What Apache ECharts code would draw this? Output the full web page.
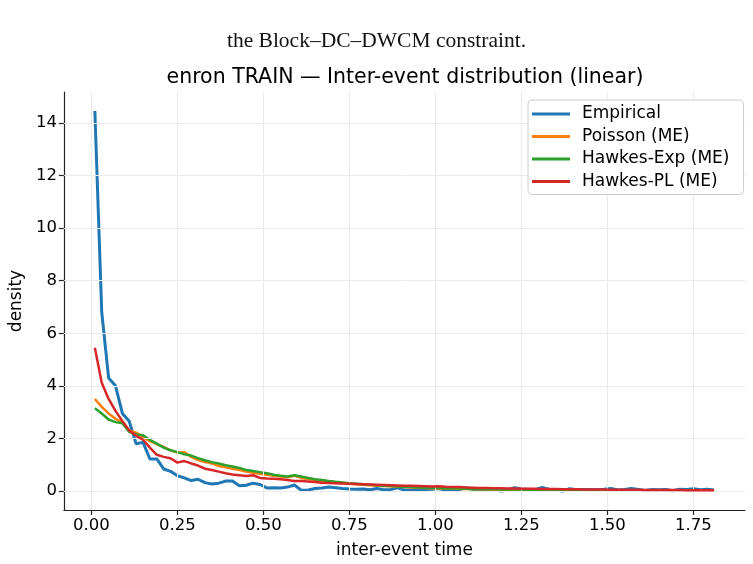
<!DOCTYPE html>
<html>
<head>
<meta charset="utf-8">
<script src="https://cdn.jsdelivr.net/npm/echarts@6/dist/echarts.min.js"></script>
<style>
html,body{margin:0;padding:0;background:#fff;}
#chart{width:753px;height:564px;}
</style>
</head>
<body>
<div id="chart"></div>
<script>
const xs = [0.01,0.03,0.05,0.07,0.09,0.11,0.13,0.15,0.17,0.19,
0.21,0.23,0.25,0.27,0.29,0.31,0.33,0.35,0.37,0.39,
0.41,0.43,0.45,0.47,0.49,0.51,0.53,0.55,0.57,0.59,
0.61,0.63,0.65,0.67,0.69,0.71,0.73,0.75,0.77,0.79,
0.81,0.83,0.85,0.87,0.89,0.91,0.93,0.95,0.97,0.99,
1.01,1.03,1.05,1.07,1.09,1.11,1.13,1.15,1.17,1.19,
1.21,1.23,1.25,1.27,1.29,1.31,1.33,1.35,1.37,1.39,
1.41,1.43,1.45,1.47,1.49,1.51,1.53,1.55,1.57,1.59,
1.61,1.63,1.65,1.67,1.69,1.71,1.73,1.75,1.77,1.79,
1.81];

const empirical = [14.45,6.8,4.3,4.0,2.95,2.65,1.8,1.85,1.22,1.22,
0.84,0.75,0.58,0.5,0.4,0.45,0.32,0.27,0.3,0.38,
0.38,0.2,0.22,0.3,0.25,0.12,0.13,0.12,0.15,0.23,
0.03,0.04,0.1,0.12,0.15,0.13,0.1,0.08,0.07,0.08,
0.05,0.1,0.05,0.06,0.12,0.04,0.05,0.07,0.06,0.07,
0.1,0.03,0.02,0.06,0.12,0.06,0.07,0.05,0.08,0.0,
0.04,0.13,0.08,0.07,0.05,0.14,0.07,0.04,0.0,0.09,
0.05,0.06,0.06,0.05,0.07,0.1,0.04,0.06,0.1,0.06,
0.02,0.06,0.05,0.06,0.01,0.07,0.06,0.09,0.05,0.07,
0.04];

const poisson = [3.5,3.2,2.95,2.75,2.6,2.3,2.22,2.05,1.9,1.78,
1.68,1.55,1.46,1.48,1.3,1.18,1.1,1.05,0.95,0.9,
0.85,0.8,0.74,0.7,0.66,0.62,0.58,0.55,0.52,0.58,
0.5,0.46,0.42,0.39,0.36,0.33,0.3,0.28,0.26,0.24,
0.22,0.2,0.19,0.18,0.16,0.15,0.14,0.13,0.12,0.11,
0.1,0.1,0.09,0.08,0.08,0.07,0.07,0.06,0.06,0.05,
0.05,0.05,0.04,0.04,0.04,0.04,0.03,0.03,0.03,0.03,
0.03,0.02,0.02,0.02,0.02,0.02,0.02,0.02,0.01,0.01,
0.01,0.01,0.01,0.01,0.01,0.01,0.01,0.01,0.01,0.01,
0.01];

const hawkesExp = [3.15,2.95,2.72,2.62,2.58,2.25,2.15,2.12,1.95,1.8,
1.65,1.55,1.48,1.4,1.35,1.25,1.17,1.1,1.05,0.98,
0.93,0.88,0.8,0.76,0.72,0.68,0.62,0.58,0.55,0.6,
0.55,0.5,0.45,0.42,0.38,0.35,0.33,0.3,0.28,0.26,
0.24,0.22,0.2,0.19,0.17,0.16,0.15,0.14,0.13,0.12,
0.12,0.11,0.1,0.1,0.09,0.08,0.08,0.07,0.07,0.06,
0.06,0.06,0.05,0.05,0.05,0.04,0.04,0.04,0.04,0.03,
0.03,0.03,0.03,0.03,0.02,0.02,0.02,0.02,0.02,0.02,
0.02,0.02,0.02,0.01,0.01,0.01,0.01,0.01,0.01,0.01,
0.01];

const hawkesPL = [5.45,4.12,3.5,3.05,2.66,2.3,2.1,1.95,1.65,1.38,
1.3,1.25,1.08,1.14,1.05,0.97,0.85,0.8,0.74,0.68,
0.63,0.6,0.57,0.6,0.5,0.48,0.47,0.45,0.42,0.38,
0.38,0.36,0.34,0.32,0.31,0.3,0.29,0.28,0.27,0.26,
0.25,0.24,0.23,0.22,0.21,0.2,0.2,0.19,0.18,0.17,
0.18,0.16,0.15,0.15,0.14,0.13,0.12,0.12,0.11,0.11,
0.1,0.1,0.09,0.09,0.09,0.08,0.08,0.08,0.07,0.07,
0.07,0.06,0.06,0.06,0.06,0.05,0.05,0.05,0.05,0.05,
0.04,0.04,0.04,0.04,0.04,0.04,0.03,0.03,0.03,0.03,
0.03];

const xTicks = [0, 0.25, 0.5, 0.75, 1.0, 1.25, 1.5, 1.75];
const yTicks = [0, 2, 4, 6, 8, 10, 12, 14];
const seriesNames = ['Empirical', 'Poisson (ME)', 'Hawkes-Exp (ME)', 'Hawkes-PL (ME)'];
const seriesColors = ['#1f77b4', '#ff7f0e', '#2ca02c', '#d62728'];
const seriesValues = [empirical, poisson, hawkesExp, hawkesPL];

const FONT = 'DejaVu Sans';
const chart = echarts.init(document.getElementById('chart'), null, {renderer: 'canvas'});

const pairs = vals => xs.map((x, i) => [x, vals[i]]);

const gridSeries = {
  type: 'line', data: [], silent: true, z: 0,
  markLine: {
    silent: true, symbol: 'none', label: {show: false},
    lineStyle: {color: '#ebebeb', width: 1, type: 'solid'},
    animation: false,
    data: xTicks.map(v => ({xAxis: v})).concat(yTicks.map(v => ({yAxis: v})))
  }
};

const lineSeries = seriesNames.map((name, k) => ({
  name: name,
  type: 'line',
  data: pairs(seriesValues[k]),
  showSymbol: false,
  symbol: 'none',
  z: 2 + k,
  lineStyle: {color: seriesColors[k], width: k === 0 ? 3 : 2.5},
  itemStyle: {color: seriesColors[k]},
  animation: false
}));

chart.setOption({
  backgroundColor: '#ffffff',
  animation: false,
  title: {
    text: 'enron TRAIN \u2014 Inter-event distribution (linear)',
    left: 400, top: 62, textAlign: 'center',
    textStyle: {fontFamily: FONT, fontSize: 20.5, fontWeight: 'normal', color: '#000'}
  },
  graphic: [{
    type: 'text', left: 'center', top: 30,
    style: {text: 'the Block\u2013DC\u2013DWCM constraint.', font: '21.5px "Liberation Serif", "DejaVu Serif", serif', fill: '#111'}
  }],
  legend: {
    data: seriesNames,
    orient: 'vertical',
    left: 528, top: 100,
    z: 50,
    padding: [5, 14, 4, 4],
    itemGap: 4.5,
    itemWidth: 38, itemHeight: 3,
    icon: 'rect',
    backgroundColor: '#ffffff',
    borderColor: '#cccccc', borderWidth: 1, borderRadius: 4,
    textStyle: {fontFamily: FONT, fontSize: 17, color: '#000', lineHeight: 18, padding: [0, 0, 0, 7]}
  },
  grid: {left: 62, right: 8, top: 92, bottom: 54, containLabel: false},
  xAxis: {
    type: 'value', min: -0.08, max: 1.9,
    name: 'inter-event time', nameLocation: 'middle', nameGap: 32,
    nameTextStyle: {fontFamily: FONT, fontSize: 17, color: '#000'},
    axisLine: {show: true, onZero: false, lineStyle: {color: '#222', width: 1.2}},
    axisTick: {show: true, customValues: xTicks, length: 5, lineStyle: {color: '#222', width: 1.2}},
    axisLabel: {customValues: xTicks, fontFamily: FONT, fontSize: 16.5, color: '#000', margin: 7,
      formatter: v => Number(v).toFixed(2)},
    splitLine: {show: false}
  },
  yAxis: {
    type: 'value', min: -0.72, max: 15.17,
    name: 'density', nameLocation: 'middle', nameGap: 37, nameRotate: 90,
    nameTextStyle: {fontFamily: FONT, fontSize: 17, color: '#000'},
    axisLine: {show: true, onZero: false, lineStyle: {color: '#222', width: 1.2}},
    axisTick: {show: true, customValues: yTicks, length: 5, lineStyle: {color: '#222', width: 1.2}},
    axisLabel: {customValues: yTicks, fontFamily: FONT, fontSize: 16.5, color: '#000', margin: 7,
      formatter: v => String(v)},
    splitLine: {show: false}
  },
  series: [gridSeries].concat(lineSeries)
});
</script>
</body>
</html>
